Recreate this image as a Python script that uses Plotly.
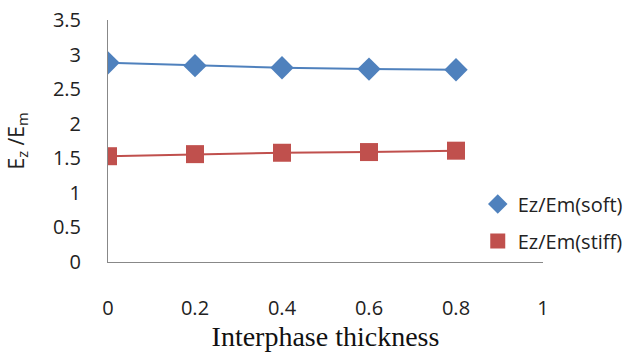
import plotly.graph_objects as go

x_vals = [0, 0.2, 0.4, 0.6, 0.8]
soft = [2.88, 2.84, 2.81, 2.79, 2.78]
stiff = [1.53, 1.56, 1.58, 1.59, 1.61]
x_ticks = [0, 0.2, 0.4, 0.6, 0.8, 1]
x_tick_text = ["0", "0.2", "0.4", "0.6", "0.8", "1"]
y_ticks = [0, 0.5, 1, 1.5, 2, 2.5, 3, 3.5]
y_tick_text = ["0", "0.5", "1", "1.5", "2", "2.5", "3", "3.5"]
names = ["Ez/Em(soft)", "Ez/Em(stiff)"]
colors = ["#4F81BD", "#C0504D"]
symbols = ["diamond", "square"]

sans = "Open Sans, Liberation Sans, sans-serif"
tick_font = dict(family=sans, size=20, color="#222")

fig = go.Figure()
for vals, nm, c, s, sz in zip([soft, stiff], names, colors, symbols, [18, 18]):
    fig.add_trace(go.Scatter(x=x_vals, y=vals, mode="lines+markers", name=nm,
                             line=dict(color=c, width=2),
                             marker=dict(symbol=s, size=sz, color=c),
                             showlegend=False))
    # legend entry showing only the marker, as in the reference
    fig.add_trace(go.Scatter(x=[None], y=[None], mode="markers", name=nm,
                             marker=dict(symbol=s, size=15, color=c),
                             legendgroup=nm, showlegend=True))

fig.update_layout(
    width=634, height=352,
    margin=dict(l=108, r=91, t=20, b=90, autoexpand=False),
    paper_bgcolor="white", plot_bgcolor="white",
    showlegend=True,
    legend=dict(x=0.85, xanchor="left", y=0.32, yanchor="top",
                font=dict(family=sans, size=20, color="#222"),
                tracegroupgap=8, bgcolor="rgba(0,0,0,0)"),
    xaxis=dict(range=[0, 1], tickvals=x_ticks, ticktext=x_tick_text, automargin=False,
               showgrid=False, zeroline=False, showline=True, linecolor="#888", linewidth=1,
               ticks="", ticklabelstandoff=28, tickfont=tick_font,
               title=dict(text="Interphase thickness", standoff=2,
                          font=dict(family="Liberation Serif, Times New Roman, serif", size=28, color="#111"))),
    yaxis=dict(range=[0, 3.5], tickvals=y_ticks, ticktext=y_tick_text, automargin=False,
               showgrid=False, zeroline=False, showline=True, linecolor="#888", linewidth=1,
               ticks="", ticklabelstandoff=22, tickfont=tick_font,
               title=dict(text="E<sub>z</sub> /E<sub>m</sub>", standoff=22,
                          font=dict(family=sans, size=21, color="#222"))),
)

fig.write_html("out.html")
